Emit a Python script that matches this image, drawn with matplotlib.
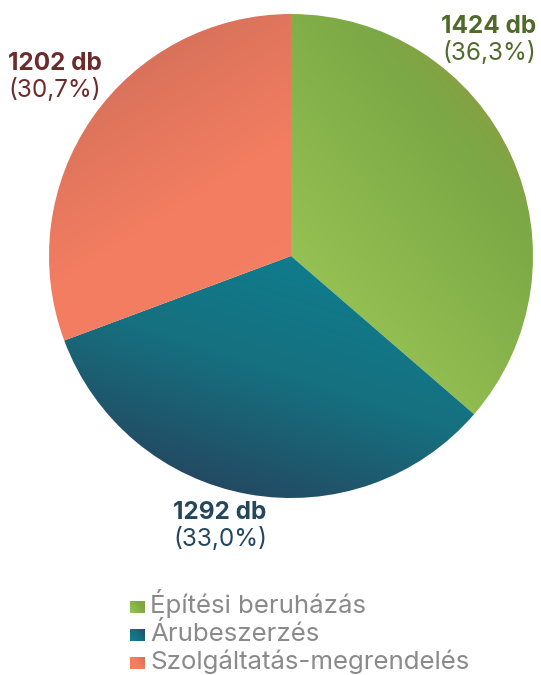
import numpy as np
import matplotlib
matplotlib.use("Agg")
import matplotlib.pyplot as plt
from matplotlib.colors import LinearSegmentedColormap

plt.rcParams['font.family'] = ['Inter', 'DejaVu Sans']

# adatok
categories = ['Építési beruházás', 'Árubeszerzés', 'Szolgáltatás-megrendelés']
counts = [1424, 1292, 1202]
label_colors = ['#4f6a2b', '#24475e', '#6d2b2b']

# szinatmenetek (start pont, vég pont, színek) kepernyo koordinataban
gradients = [
    ((300, 300), (535, 110), [(0, '#98c355'), (0.75, '#7ca845'), (0.88, '#86a243'), (1, '#a08c3a')]),
    ((330, 256), (250, 498), [(0, '#0f7d8e'), (0.5, '#16707f'), (1, '#234a63')]),
    ((300, 330), (120, 40), [(0, '#f47f62'), (0.5, '#f27d61'), (1, '#d4705a')]),
]

W, H = 541, 675
CX, CY, R = 291, 256, 242


def fy(y):
    return H - y


def grad_image(ax, extent, p0, p1, colors, clip):
    x0, x1, y0, y1 = extent
    xs = np.linspace(x0, x1, 200)
    ys = np.linspace(y0, y1, 200)
    X, Y = np.meshgrid(xs, ys)
    a = np.array([p0[0], fy(p0[1])], dtype=float)
    b = np.array([p1[0], fy(p1[1])], dtype=float)
    d = b - a
    t = ((X - a[0]) * d[0] + (Y - a[1]) * d[1]) / (d @ d)
    t = np.clip(t, 0, 1)
    cmap = LinearSegmentedColormap.from_list('g', colors)
    im = ax.imshow(t, cmap=cmap, vmin=0, vmax=1, extent=extent, origin='lower',
                   interpolation='bilinear', zorder=1)
    im.set_clip_path(clip)
    return im


fig = plt.figure(figsize=(W / 100, H / 100), dpi=100)
ax = fig.add_axes([0, 0, 1, 1])

wedges, _ = ax.pie(counts, startangle=90, counterclock=False,
                   center=(CX, fy(CY)), radius=R, frame=True)
for w, (p0, p1, cols) in zip(wedges, gradients):
    w.set_facecolor('none')
    w.set_edgecolor('none')
    grad_image(ax, [CX - R, CX + R, fy(CY) - R, fy(CY) + R], p0, p1, cols, w)

total = sum(counts)
pcts = [c / total * 100 for c in counts]

# címkék
label_pos = [(536, 33, 'right'), (173, 519, 'left'), (8, 70, 'left')]
for (x, y, ha), c, p, col in zip(label_pos, counts, pcts, label_colors):
    ax.text(x, fy(y), f'{c} db', ha=ha, va='baseline', fontsize=17.5,
            fontweight='bold', color=col)
    ax.text(x, fy(y + 27), '(' + f'{p:.1f}'.replace('.', ',') + '%)', ha=ha,
            va='baseline', fontsize=17.5, color=col)

# jelmagyarázat
for i, (name, (p0, p1, cols)) in enumerate(zip(categories, gradients)):
    base = 613 + i * 28
    sq = plt.Rectangle((130, fy(base)), 15, 12, facecolor='none', edgecolor='none')
    ax.add_patch(sq)
    grad_image(ax, [130, 145, fy(base), fy(base) + 12],
               (130, base), (145, base - 12), cols, sq)
    ax.text(150, fy(base), name, ha='left', va='baseline', fontsize=18.6,
            color='#8a8a8a')

ax.set_xlim(0, W)
ax.set_ylim(0, H)
ax.set_aspect('auto')
ax.axis('off')

fig.savefig('out.png', dpi=100)
